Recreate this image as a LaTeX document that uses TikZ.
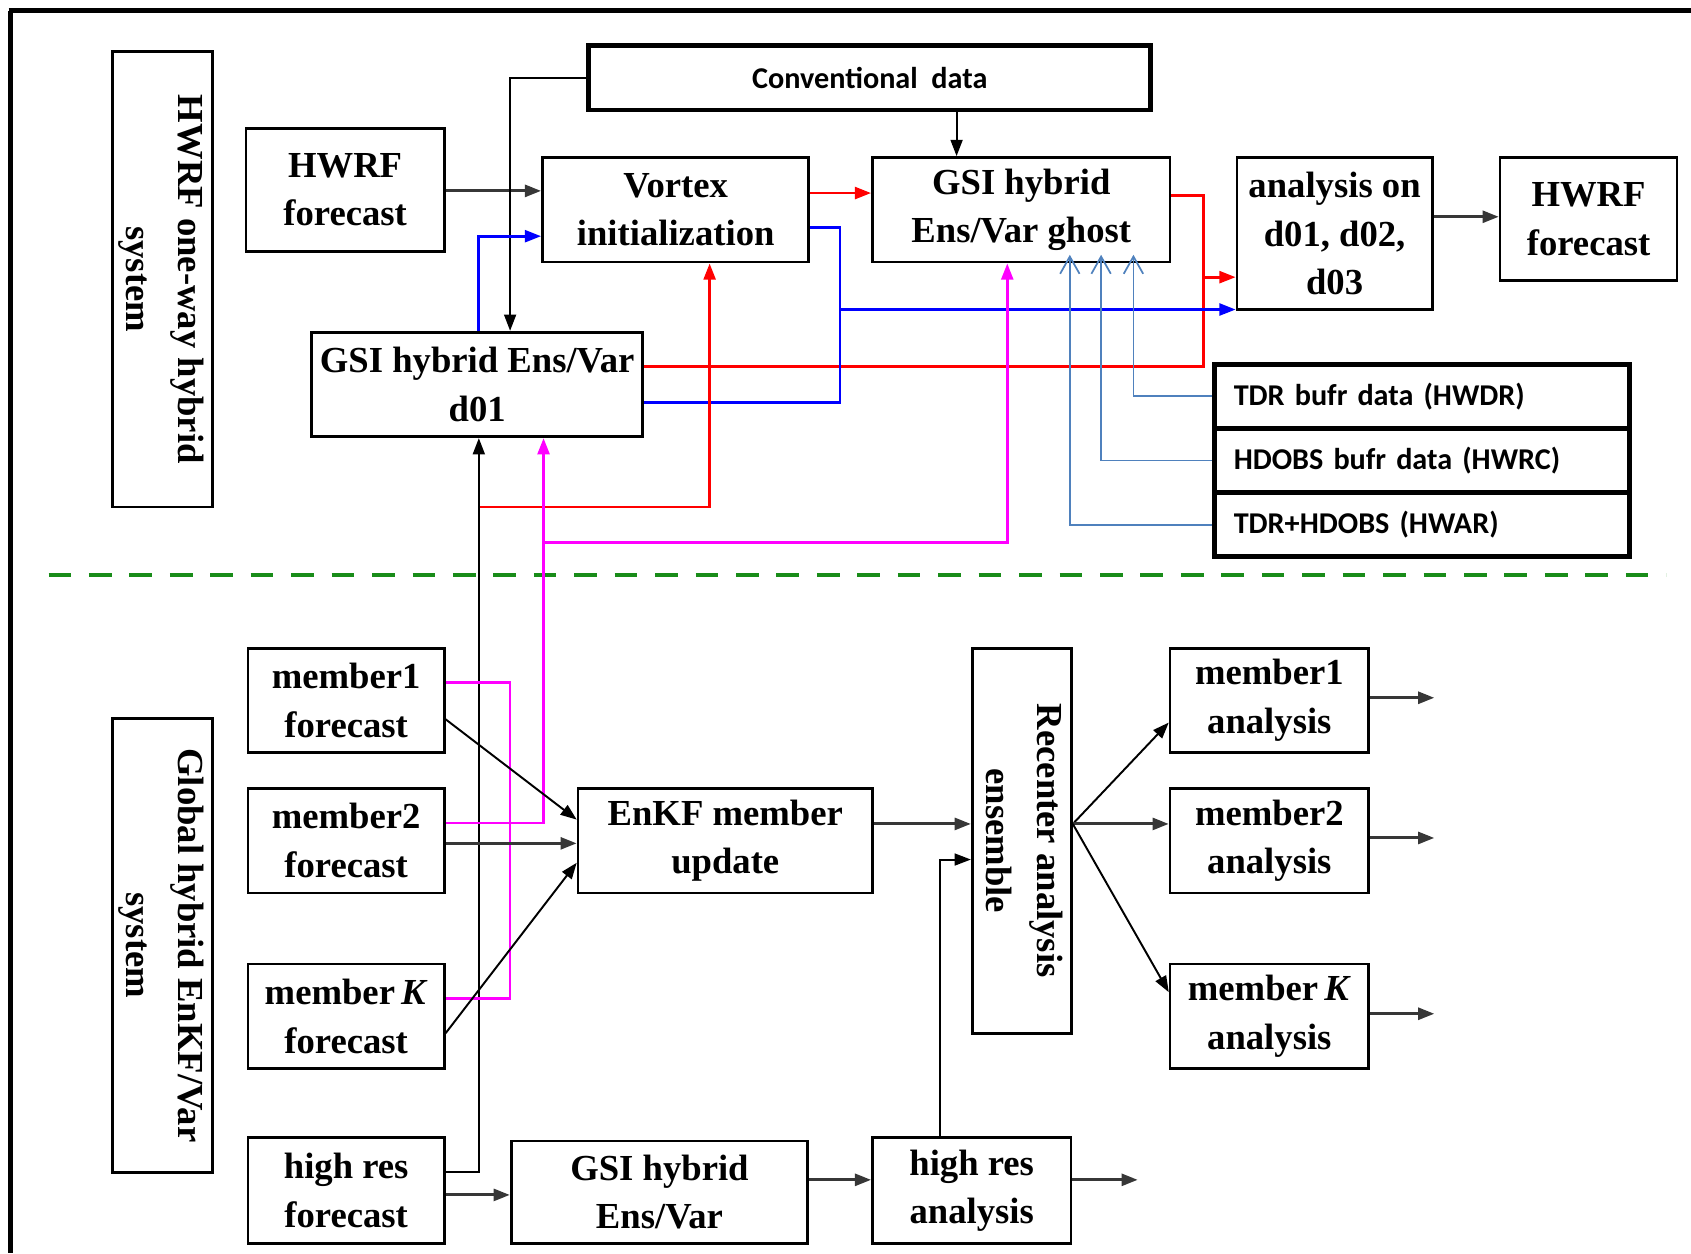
\documentclass[tikz,border=0pt]{standalone}
\usepackage{fontspec}
\setmainfont{Liberation Serif}
\newfontfamily\sansfam{Carlito}
\usetikzlibrary{arrows.meta,calc}
\definecolor{myred}{RGB}{255,0,0}
\definecolor{myblue}{RGB}{0,0,255}
\definecolor{mymag}{RGB}{255,0,255}
\definecolor{mysteel}{RGB}{79,129,189}
\definecolor{mygreen}{RGB}{25,140,25}
\definecolor{darkg}{RGB}{55,55,55}
\begin{document}
\begin{tikzpicture}[x=1pt,y=-1pt,
  box/.style={draw,line width=2.5pt,inner sep=0pt,align=center,font=\bfseries\fontsize{34}{45}\selectfont},
  heavybox/.style={draw,line width=4.5pt,inner sep=0pt,font=\sansfam\bfseries\fontsize{28}{34}\selectfont},
  tdrbox/.style={heavybox,minimum height=59pt,text width=349pt,inner xsep=18pt,align=left},
  tip/.style={-{Triangle[length=15pt,width=11pt]}},
  conn/.style={line width=2.8pt,draw=darkg,tip},
  thinconn/.style={line width=1.8pt,draw=black,tip},
  redl/.style={line width=2.5pt,draw=myred},
  bluel/.style={line width=2.5pt,draw=myblue},
  magl/.style={line width=2.5pt,draw=mymag},
  steell/.style={line width=1.6pt,draw=mysteel,-{Straight Barb[length=16pt,width=18pt]},shorten >=-8pt},
]
\useasboundingbox (0,0) rectangle (1568,1162);
% frame
\draw[line width=5pt] (8,10) -- (1568,10);
\draw[line width=5pt] (10,10) -- (10,1162);

% ---------- upper part ----------
\node[box,minimum width=89pt,minimum height=422pt] (sys1) at (150.5,259)
  {\rotatebox{-90}{\begin{tabular}{@{}c@{}}HWRF one-way hybrid\\[3pt]system\end{tabular}}};
\node[box,minimum width=184pt,minimum height=114pt] (hwrfL) at (320,176) {HWRF\\forecast};
\node[heavybox,minimum width=521pt,minimum height=60pt] (conv) at (806.5,72) {Conventional~~data};
\node[box,minimum width=247pt,minimum height=97pt] (vortex) at (626.5,194.5) {Vortex\\initialization};
\node[box,minimum width=276pt,minimum height=97pt] (ghost) at (947,194.5) {GSI hybrid\\Ens/Var ghost};
\node[box,minimum width=181pt,minimum height=141pt] (anal) at (1237.5,216.5) {analysis on\\d01, d02,\\d03};
\node[box,minimum width=164pt,minimum height=114pt] (hwrfR) at (1473,203) {HWRF\\forecast};
\node[box,minimum width=307pt,minimum height=97pt] (d01) at (442.5,356.5) {GSI hybrid Ens/Var\\d01};
\node[tdrbox] (tdr1) at (1318.5,367.5) {TDR bufr data (HWDR)};
\node[tdrbox] (tdr2) at (1318.5,427) {HDOBS bufr data (HWRC)};
\node[tdrbox] (tdr3) at (1318.5,486.5) {TDR+HDOBS (HWAR)};

% separator
\draw[mygreen,line width=4pt,dash pattern=on 21pt off 16.5pt] (45,533) -- (1545,533);

% ---------- lower part ----------
\node[box,minimum width=89pt,minimum height=421pt] (sys2) at (150.5,876.5)
  {\rotatebox{-90}{\begin{tabular}{@{}c@{}}Global hybrid EnKF/Var\\[3pt]system\end{tabular}}};
\node[box,minimum width=182pt,minimum height=97pt] (m1f) at (321,649.5) {member1\\forecast};
\node[box,minimum width=182pt,minimum height=97pt] (m2f) at (321,779.5) {member2\\forecast};
\node[box,minimum width=182pt,minimum height=97pt] (mKf) at (321,942.5) {member\,\textit{K}\\forecast};
\node[box,minimum width=182pt,minimum height=98pt] (hrf) at (321,1104) {high res\\forecast};
\node[box,minimum width=273pt,minimum height=97pt] (enkf) at (672.5,779.5) {EnKF member\\update};
\node[box,minimum width=91pt,minimum height=357pt] (recenter) at (947.5,779.5)
  {\rotatebox{-90}{\begin{tabular}{@{}c@{}}Recenter analysis\\[2pt]ensemble\end{tabular}}};
\node[box,minimum width=184pt,minimum height=97pt] (m1a) at (1177,649.5) {member1\\analysis};
\node[box,minimum width=184pt,minimum height=97pt] (m2a) at (1177,779.5) {member2\\analysis};
\node[box,minimum width=184pt,minimum height=97pt] (mKa) at (1177,942.5) {member\,\textit{K}\\analysis};
\node[box,minimum width=275pt,minimum height=95pt] (gsiB) at (611.5,1105.5) {GSI hybrid\\Ens/Var};
\node[box,minimum width=184pt,minimum height=98pt] (hra) at (901,1104) {high res\\analysis};

% junction / free-end coordinates
\coordinate (rj) at (1116,257);
\coordinate (bj) at (779,287);
\coordinate (rj2) at (444,470);
\coordinate (mj) at (504,503);
\coordinate (o1) at (1330,647);
\coordinate (o2) at (1330,777);
\coordinate (o3) at (1330,940);
\coordinate (o4) at (1055,1094);

% ---------- upper connectors ----------
\draw[conn] (hwrfL.east |- 0,177) -- (vortex.west |- 0,177);
\draw[thinconn] (conv.west) -| (d01.north -| 473,0);
\draw[thinconn] (conv.south -| 887,0) -- (ghost.north -| 887,0);
\draw[redl,tip] (vortex.east |- 0,179) -- (ghost.west |- 0,179);
\draw[redl] (ghost.east |- 0,181) -| (1116,340) -- (d01.east |- 0,340);
\draw[redl,tip] (rj) -- (anal.west |- rj);
\draw[bluel,tip] (d01.north -| 444,0) |- (vortex.west |- 0,219);
\draw[bluel] (d01.east |- 0,373) -| (779,211) -- (vortex.east |- 0,211);
\draw[bluel,tip] (bj) -- (anal.west |- bj);
\draw[redl,tip] (rj2) -| (vortex.south -| 658,0);
\draw[thinconn] (hrf.east |- 0,1087) -| (d01.south -| rj2);
\draw[magl] (m1f.east |- 0,633) -| (473,926) -- (mKf.east |- 0,926);
\draw[magl,tip] (m2f.east |- 0,763) -| (d01.south -| mj);
\draw[magl,tip] (mj) -| (ghost.south -| 934,0);
\draw[steell] (tdr1.west) -| (ghost.south -| 1051,0);
\draw[steell] (tdr2.west) -| (ghost.south -| 1021,0);
\draw[steell] (tdr3.west) -| (ghost.south -| 992,0);
\draw[conn] (anal.east |- 0,201) -- (hwrfR.west |- 0,201);

% ---------- lower connectors ----------
\draw[thinconn] (m1f.east |- 0,667) -- (enkf.west |- 0,760);
\draw[conn] (m2f.east |- 0,782) -- (enkf.west |- 0,782);
\draw[thinconn] (mKf.east |- 0,958) -- (enkf.west |- 0,800);
\draw[conn] (enkf.east |- 0,764) -- (recenter.west |- 0,764);
\draw[thinconn] (hra.north -| 872,0) |- (recenter.west |- 0,797);
\draw[thinconn] (recenter.east |- 0,764) -- (m1a.west |- 0,670);
\draw[conn] (recenter.east |- 0,764) -- (m2a.west |- 0,764);
\draw[thinconn] (recenter.east |- 0,764) -- (mKa.west |- 0,920);
\draw[conn] (m1a.east |- o1) -- (o1);
\draw[conn] (m2a.east |- o2) -- (o2);
\draw[conn] (mKa.east |- o3) -- (o3);
\draw[conn] (hrf.east |- 0,1108) -- (gsiB.west |- 0,1108);
\draw[conn] (gsiB.east |- 0,1094) -- (hra.west |- 0,1094);
\draw[conn] (hra.east |- o4) -- (o4);
\end{tikzpicture}
\end{document}
